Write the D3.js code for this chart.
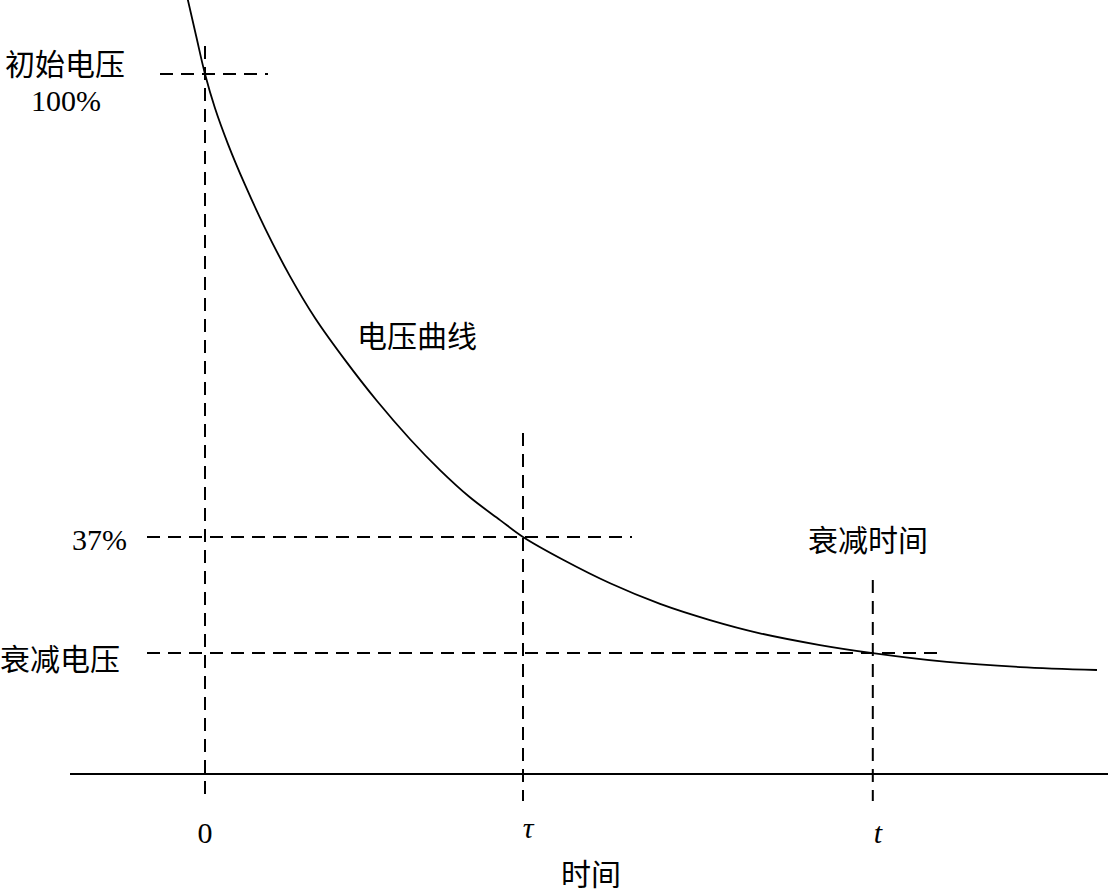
<!DOCTYPE html>
<html>
<head>
<meta charset="utf-8">
<script src="https://cdn.jsdelivr.net/npm/d3@7/dist/d3.min.js"></script>
<style>
  html, body { margin: 0; padding: 0; background: #fff; }
  svg { display: block; }
  text { font-family: "Liberation Serif", "Noto Sans CJK SC", serif; fill: #000; }
</style>
</head>
<body>
<svg id="chart" width="1109" height="892"></svg>
<script>
// ---- data (time in units of tau, voltage in % of initial) ----
const curveTime    = [-0.054, -0.028, 0, 0.031, 0.072, 0.126, 0.189, 0.267, 0.346, 0.440, 0.541, 0.645, 0.739, 0.833, 0.928, 1.0, 1.126, 1.274, 1.431, 1.588, 1.745, 1.934, 2.1, 2.333, 2.563, 2.805];
const curveVoltage = [110.1, 105.2, 100, 95.4, 90.5, 84.9, 79.0, 72.5, 66.8, 61.1, 55.5, 50.3, 46.1, 42.4, 39.3, 37.0, 33.9, 30.7, 27.9, 25.7, 23.9, 22.3, 21.2, 20.0, 19.3, 18.9];

const timeMarks      = [0, 1, 2.1];
const timeMarkLabels = ["0", "τ", "t"];
const levelMarks     = [100, 37, 21.2];
const levelLabels    = ["初始电压", "37%", "衰减电压"];
const curveLabel     = "电压曲线";
const decayTimeLabel = "衰减时间";
const xAxisTitle     = "时间";

// ---- layout ----
const svg = d3.select("#chart");
const x = d3.scaleLinear().domain([0, 1]).range([205, 523]);
const y = d3.scaleLinear().domain([37, 100]).range([537, 74]);
const baseY = 774;
const dash = "13,8";
const fs = 30;

// horizontal dashed guide extents (pixels)
const hExt = [[160, 268], [147, 632], [147, 945]];
// vertical dashed guide top ends (pixels)
const vTop = [46, 433, 580];
const vBottom = 801;

// baseline axis
svg.append("line")
  .attr("x1", 70).attr("x2", 1108)
  .attr("y1", baseY).attr("y2", baseY)
  .attr("stroke", "#000").attr("stroke-width", 2);

// horizontal guides
svg.selectAll("line.h").data(levelMarks).enter().append("line")
  .attr("class", "h")
  .attr("x1", (d, i) => hExt[i][0]).attr("x2", (d, i) => hExt[i][1])
  .attr("y1", d => y(d)).attr("y2", d => y(d))
  .attr("stroke", "#000").attr("stroke-width", 2)
  .attr("stroke-dasharray", dash);

// vertical guides
svg.selectAll("line.v").data(timeMarks).enter().append("line")
  .attr("class", "v")
  .attr("x1", d => x(d)).attr("x2", d => x(d))
  .attr("y1", (d, i) => vTop[i]).attr("y2", vBottom)
  .attr("stroke", "#000").attr("stroke-width", 2)
  .attr("stroke-dasharray", dash);

// voltage curve
const pts = curveTime.map((t, i) => [t, curveVoltage[i]]);
svg.append("path")
  .datum(pts)
  .attr("fill", "none")
  .attr("stroke", "#000")
  .attr("stroke-width", 1.8)
  .attr("d", d3.line().x(d => x(d[0])).y(d => y(d[1])).curve(d3.curveCatmullRom));

// level labels
svg.append("text").attr("x", 5).attr("y", 64).attr("dominant-baseline", "central")
  .attr("font-size", fs).text(levelLabels[0]);
svg.append("text").attr("x", 66).attr("y", 111).attr("text-anchor", "middle")
  .attr("font-size", fs).text(d3.format(".0f")(levelMarks[0]) + "%");
svg.append("text").attr("x", 127).attr("y", 550).attr("text-anchor", "end")
  .attr("font-size", fs).text(levelLabels[1]);
svg.append("text").attr("x", 0).attr("y", 659).attr("dominant-baseline", "central")
  .attr("font-size", fs).text(levelLabels[2]);

// curve label and decay-time label
svg.append("text").attr("x", 357).attr("y", 336).attr("dominant-baseline", "central")
  .attr("font-size", fs).text(curveLabel);
svg.append("text").attr("x", 808).attr("y", 540).attr("dominant-baseline", "central")
  .attr("font-size", fs).text(decayTimeLabel);

// time tick labels
const tickBase = [843, 838, 843];
const tickDx = [0, 5, 5];
svg.selectAll("text.tick").data(timeMarks).enter().append("text")
  .attr("class", "tick")
  .attr("x", (d, i) => x(d) + tickDx[i])
  .attr("y", (d, i) => tickBase[i])
  .attr("text-anchor", "middle")
  .attr("font-size", fs)
  .attr("font-style", (d, i) => i === 0 ? "normal" : "italic")
  .text((d, i) => timeMarkLabels[i]);

// x axis title
svg.append("text").attr("x", 591).attr("y", 874).attr("dominant-baseline", "central")
  .attr("text-anchor", "middle").attr("font-size", fs).text(xAxisTitle);
</script>
</body>
</html>
